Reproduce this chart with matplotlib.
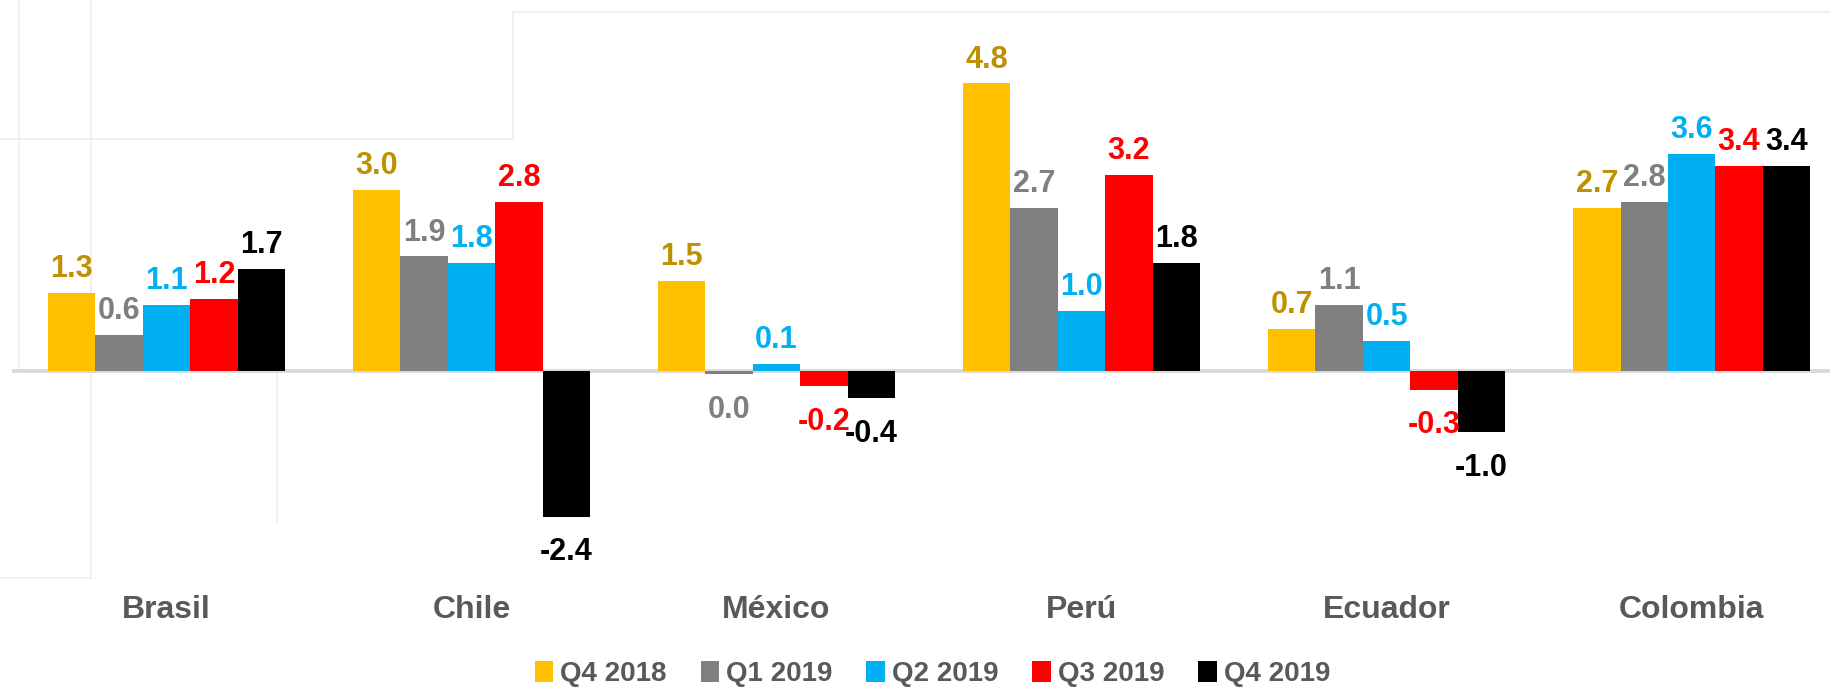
import matplotlib.pyplot as plt
from matplotlib.lines import Line2D
import numpy as np

# data
countries = ['Brasil', 'Chile', 'México', 'Perú', 'Ecuador', 'Colombia']
quarters = ['Q4 2018', 'Q1 2019', 'Q2 2019', 'Q3 2019', 'Q4 2019']
q4_2018 = [1.3, 3.0, 1.5, 4.76, 0.7, 2.7]
q1_2019 = [0.6, 1.9, -0.04, 2.7, 1.1, 2.8]
q2_2019 = [1.1, 1.8, 0.12, 1.0, 0.5, 3.6]
q3_2019 = [1.2, 2.8, -0.24, 3.24, -0.3, 3.4]
q4_2019 = [1.7, -2.4, -0.44, 1.8, -1.0, 3.4]
series = [q4_2018, q1_2019, q2_2019, q3_2019, q4_2019]

barColors = ['#FFC000', '#808080', '#00B0F0', '#FF0000', '#000000']
labelColors = ['#BF9000', '#7F7F7F', '#00B0F0', '#FF0000', '#000000']
textGray = '#595959'
sans = ['Liberation Sans', 'DejaVu Sans']

W, H = 1831, 688
fig = plt.figure(figsize=(W / 100, H / 100), dpi=100)
fig.patch.set_facecolor('white')

# faint leftovers of the screenshot frame
faint = '#EDEDED'
for (x0, y0, x1, y1) in [(0, 139, 513, 139), (513, 12, 513, 139), (513, 12, W, 12),
                         (19, 0, 19, 371), (91, 0, 91, 578), (0, 578, 91, 578),
                         (277, 371, 277, 522)]:
    fig.add_artist(Line2D([x0 / W, x1 / W], [1 - y0 / H, 1 - y1 / H],
                          transform=fig.transFigure, color=faint, lw=1.2, zorder=0))

ax = fig.add_axes([12 / W, (H - 588) / H, (W - 12) / W, 588 / H])
ax.set_facecolor('none')

x = np.arange(len(countries))
width = 0.1554
bars = []
for k, vals in enumerate(series):
    pos = x + (k - 2) * width
    b = ax.bar(pos, vals, width, color=barColors[k], label=quarters[k], zorder=2)
    bars.append(b)
    for px, v in zip(pos, vals):
        txt = f'{abs(v) if round(v, 1) == 0 else v:.1f}'
        if v >= 0:
            ax.annotate(txt, (px, v), xytext=(0, 11.5), textcoords='offset points',
                        ha='center', va='baseline', color=labelColors[k],
                        fontsize=22, fontweight='bold', family=sans, zorder=3)
        else:
            ax.annotate(txt, (px, v), xytext=(0, -15), textcoords='offset points',
                        ha='center', va='top', color=labelColors[k],
                        fontsize=22, fontweight='bold', family=sans, zorder=3)

ax.axhline(0, color='#D9D9D9', lw=2.8, zorder=1)

ax.set_xlim(-0.5066, 5.457)
ax.set_ylim(-3.58, 6.14)
ax.set_xticks(x, labels=countries, fontsize=23, fontweight='bold', family=sans,
              color=textGray)
ax.tick_params(axis='x', length=0, pad=5)
ax.set_yticks([])
for s in ax.spines.values():
    s.set_visible(False)

fig.legend(handles=bars, labels=quarters, loc='center', bbox_to_anchor=(0.5093, 0.0203),
           ncol=5, frameon=False, borderpad=0, handlelength=0.68, handleheight=0.75,
           handletextpad=0.25, columnspacing=1.21,
           prop={'family': sans, 'weight': 'bold', 'size': 20},
           labelcolor=textGray)

plt.savefig('out.png', dpi=100, facecolor=fig.get_facecolor())
